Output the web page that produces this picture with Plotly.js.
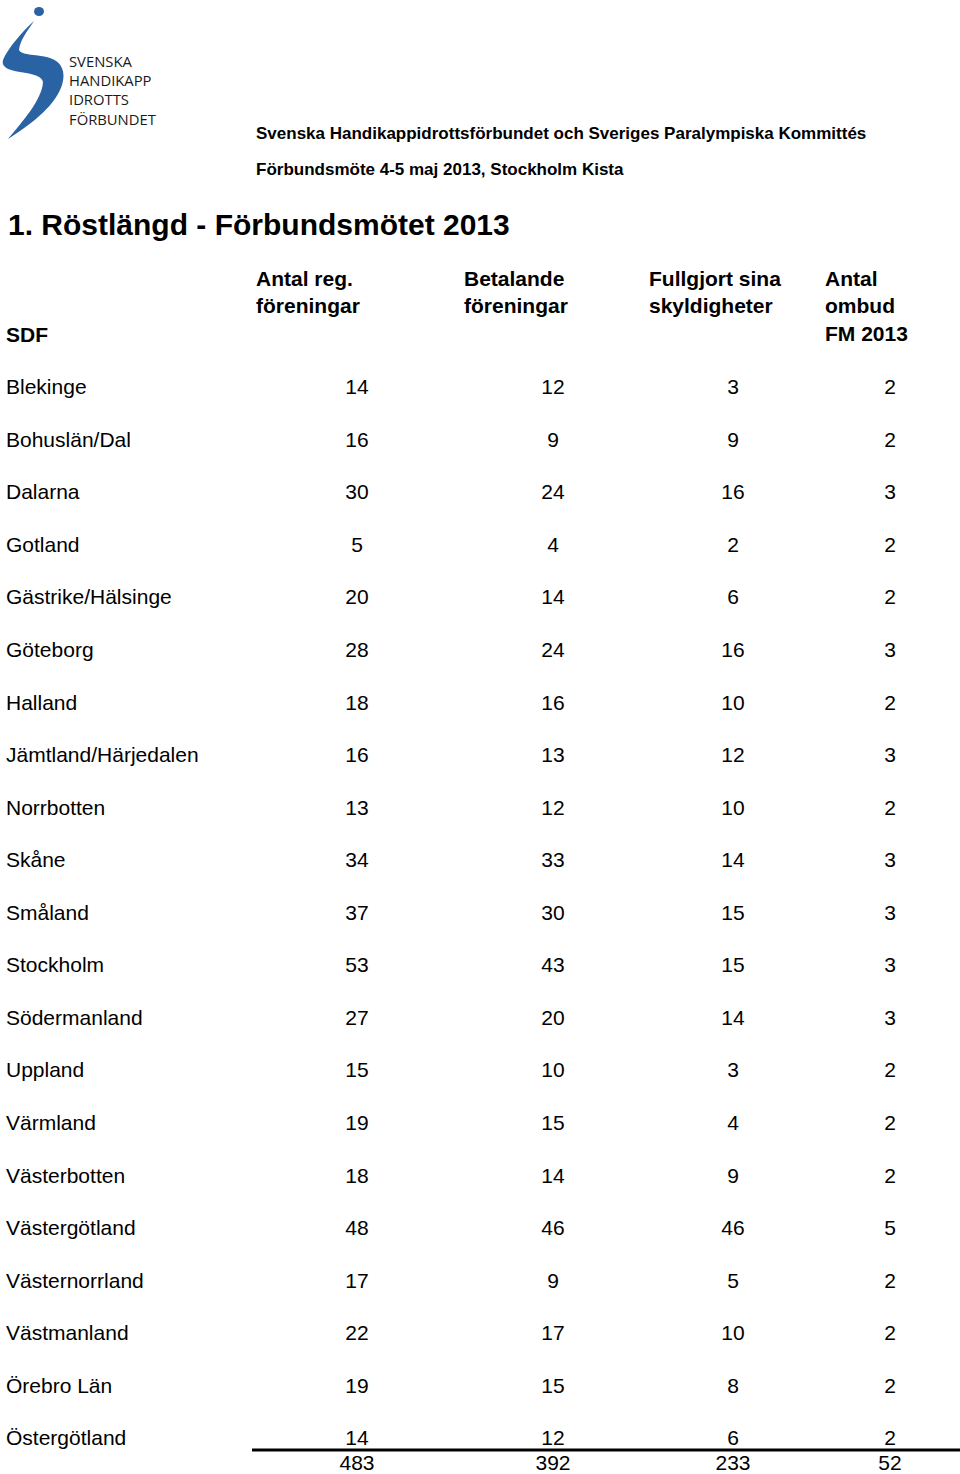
<!DOCTYPE html>
<html>
<head>
<meta charset="utf-8">
<script src="https://cdn.plot.ly/plotly-3.0.1.min.js"></script>
<style>html,body{margin:0;padding:0;background:#fff;}#chart{width:960px;height:1474px;}</style>
</head>
<body>
<div id="chart"></div>
<script>
// ---- Data ----
const districts = ["Blekinge","Bohuslän/Dal","Dalarna","Gotland","Gästrike/Hälsinge","Göteborg","Halland",
  "Jämtland/Härjedalen","Norrbotten","Skåne","Småland","Stockholm","Södermanland","Uppland","Värmland",
  "Västerbotten","Västergötland","Västernorrland","Västmanland","Örebro Län","Östergötland"];
const antalReg   = [14,16,30,5,20,28,18,16,13,34,37,53,27,15,19,18,48,17,22,19,14];
const betalande  = [12,9,24,4,14,24,16,13,12,33,30,43,20,10,15,14,46,9,17,15,12];
const fullgjort  = [3,9,16,2,6,16,10,12,10,14,15,15,14,3,4,9,46,5,10,8,6];
const ombud      = [2,2,3,2,2,3,2,3,2,3,3,3,3,2,2,2,5,2,2,2,2];
const totals     = [483,392,233,52];
const columnHeaders = ["Antal reg.<br>föreningar","Betalande<br>föreningar","Fullgjort sina<br>skyldigheter","Antal<br>ombud<br>FM 2013"];
const firstColHeader = "SDF";
const pageTitle = "1. Röstlängd - Förbundsmötet 2013";
const subTitle1 = "Svenska Handikappidrottsförbundet och Sveriges Paralympiska Kommittés";
const subTitle2 = "Förbundsmöte 4-5 maj 2013, Stockholm Kista";
const logoLines = ["SVENSKA","HANDIKAPP","IDROTTS","FÖRBUNDET"];

// ---- Layout geometry (page pixel space) ----
const FONT = "Liberation Sans, Arial, Helvetica, sans-serif";
const rowY0 = 389, rowStep = 52.55;
const rowY = districts.map((d,i)=> rowY0 + i*rowStep);
const colX = [357, 553, 733, 890];
const headerX = [254, 462, 647, 823];
const totalY = 1465;

const cellFont = {family: FONT, size: 21, color: "#000"};
const traces = [];
traces.push({
  x: districts.map(()=>6), y: rowY, text: districts, mode: "text", type: "scatter",
  textposition: "middle right", textfont: cellFont, hoverinfo: "skip", showlegend: false, cliponaxis: false
});
[antalReg, betalande, fullgjort, ombud].forEach((arr, c)=>{
  traces.push({
    x: arr.map(()=>colX[c]), y: rowY, text: arr.map(String), mode: "text", type: "scatter",
    textposition: "middle center", textfont: cellFont, hoverinfo: "skip", showlegend: false, cliponaxis: false
  });
});
traces.push({
  x: colX, y: colX.map(()=>totalY), text: totals.map(String), mode: "text", type: "scatter",
  textposition: "middle center", textfont: cellFont, hoverinfo: "skip", showlegend: false, cliponaxis: false
});

const annotations = [];
const ann = (x,y,text,size,bold,extra)=>Object.assign({
  x, y, xref:"x", yref:"y", text: bold ? "<b>"+text+"</b>" : text, showarrow:false,
  xanchor:"left", yanchor:"middle", align:"left",
  font:{family: FONT, size, color:"#000"}
}, extra||{});

annotations.push(ann(254, 133, subTitle1, 17, true));
annotations.push(ann(254, 169, subTitle2, 17, true));
annotations.push(ann(6, 224, pageTitle, 30, true));
columnHeaders.forEach((h,i)=>{
  annotations.push(ann(headerX[i], 265, h, 21, true, {yanchor:"top"}));
});
annotations.push(ann(4, 334, firstColHeader, 21, true));
annotations.push(ann(67, 89.5, logoLines.join("<br>"), 14.8, false,
  {font:{family:"Open Sans, Noto Sans, sans-serif", size:14.8, color:"#1a1a1a"}}));

const blue = "#2a63a4";
const shapes = [
  // total rule
  {type:"line", xref:"x", yref:"y", x0:252, x1:960, y0:1450, y1:1450, line:{color:"#000", width:3}},
  // logo swoosh
  {type:"path", xref:"x", yref:"y", fillcolor: blue, line:{width:0},
   path:"M 34,21 C 22,32 8,48 3,60 C 1,67 8,70 20,72 C 33,74 42,76 43,82 C 42,100 22,122 8,139 C 35,122 56,104 62,85 C 66,72 62,62 50,58 C 38,54 22,56 19,50 C 20,40 28,30 34,21 Z"},
  {type:"circle", xref:"x", yref:"y", x0:34, x1:44, y0:7, y1:16, fillcolor: blue, line:{width:0}}
];

const layout = {
  width: 960, height: 1474,
  margin: {l:0, r:0, t:0, b:0, pad:0},
  paper_bgcolor: "#fff", plot_bgcolor: "#fff",
  xaxis: {range:[0,960], visible:false, fixedrange:true},
  yaxis: {range:[1474,0], visible:false, fixedrange:true},
  annotations, shapes, showlegend:false
};

Plotly.newPlot("chart", traces, layout, {staticPlot:true, displayModeBar:false});
</script>
</body>
</html>
